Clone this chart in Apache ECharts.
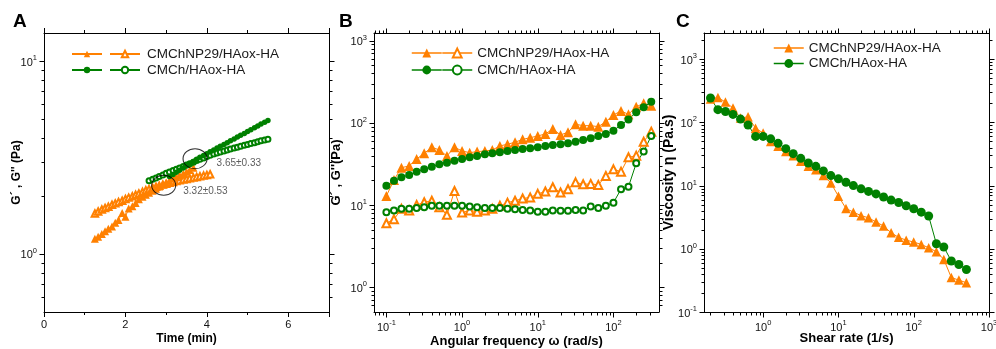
<!DOCTYPE html>
<html><head><meta charset="utf-8">
<script src="https://cdn.jsdelivr.net/npm/echarts@6/dist/echarts.min.js"></script>
<style>html,body{margin:0;padding:0;background:#fff}#c{width:996px;height:349px}</style>
</head><body><div id="c"></div>
<script>
// ---------------- Panel A : time sweep ----------------
const timeNP_G1 = [1.25,1.33,1.42,1.50,1.58,1.67,1.75,1.83,1.92,2.00,2.08,2.17,2.25,2.33,2.42,2.50,2.58,2.67,2.75,2.83,2.92,3.00,3.08,3.17,3.25,3.33,3.42,3.50,3.58,3.67];
const gpNP_A    = [1.20,1.23,1.27,1.31,1.35,1.39,1.45,1.50,1.63,1.56,1.72,1.77,1.84,1.92,1.98,2.03,2.08,2.13,2.18,2.24,2.29,2.34,2.40,2.46,2.51,2.56,2.61,2.67,2.73,2.80];
const timeNP_G2 = [1.25,1.33,1.42,1.50,1.58,1.67,1.75,1.83,1.92,2.00,2.08,2.17,2.25,2.33,2.42,2.50,2.58,2.67,2.75,2.83,2.92,3.00,3.08,3.17,3.25,3.33,3.42,3.50,3.58,3.67,3.75,3.83,3.92,4.00,4.08];
const gppNP_A   = [1.62,1.66,1.70,1.73,1.76,1.80,1.83,1.86,1.89,1.93,1.96,1.99,2.03,2.06,2.10,2.14,2.17,2.20,2.23,2.26,2.29,2.31,2.34,2.36,2.39,2.41,2.43,2.45,2.47,2.49,2.51,2.53,2.55,2.57,2.59];
const timeCH_G1 = [3.08,3.17,3.25,3.33,3.42,3.50,3.58,3.67,3.75,3.83,3.92,4.00,4.08,4.17,4.25,4.33,4.42,4.50,4.58,4.67,4.75,4.83,4.92,5.00,5.08,5.17,5.25,5.33,5.42,5.50];
const gpCH_A    = [2.52,2.58,2.65,2.72,2.79,2.87,2.94,3.02,3.10,3.17,3.24,3.31,3.39,3.46,3.54,3.62,3.70,3.78,3.87,3.95,4.04,4.13,4.22,4.32,4.41,4.51,4.61,4.72,4.82,4.93];
const timeCH_G2 = [2.58,2.67,2.75,2.83,2.92,3.00,3.08,3.17,3.25,3.33,3.42,3.50,3.58,3.67,3.75,3.83,3.92,4.00,4.08,4.17,4.25,4.33,4.42,4.50,4.58,4.67,4.75,4.83,4.92,5.00,5.08,5.17,5.25,5.33,5.42,5.50];
const gppCH_A   = [2.40,2.44,2.48,2.52,2.57,2.62,2.66,2.71,2.75,2.79,2.84,2.89,2.94,2.99,3.05,3.10,3.15,3.20,3.25,3.30,3.34,3.38,3.42,3.46,3.50,3.54,3.58,3.62,3.66,3.70,3.74,3.78,3.82,3.86,3.90,3.94];
const crossPoints = [[2.94, 2.27], [3.71, 3.12]];
const crossLabels = ['3.32±0.53', '3.65±0.33'];

// ---------------- Panel B : frequency sweep ----------------
const freqB  = [0.1,0.126,0.158,0.2,0.251,0.316,0.398,0.501,0.631,0.794,1,1.26,1.58,2,2.51,3.16,3.98,5.01,6.31,7.94,10,12.6,15.8,20,25.1,31.6,39.8,50.1,63.1,79.4,100,126,158,200,251,316];
const gpNP_B  = [12.9,20.2,28.5,29.9,36.4,42.6,50.5,46.8,39.6,50.5,45.5,43.4,44.7,45.5,46.8,52.4,55,58.1,63,66,69.3,73.3,84.3,71.3,76.9,96.2,92.5,92.5,89.9,103.5,124.8,139.6,127,157,173,162];
const gppNP_B = [6.0,6.7,9.0,8.6,10.0,10.8,11.3,9.4,7.6,14.8,8.1,8.6,8.3,8.6,9.0,9.8,10.7,11.3,12.0,12.4,13.7,14.6,16.5,14.2,15.6,18.9,17.9,18.1,17.6,22.6,27.2,25.5,38.1,39.9,59,78.2];
const gpCH_B  = [17.2,19.8,21.8,23.2,25.5,27.2,29.3,31.4,32.8,34.7,36.4,38.1,39.6,41.5,42.7,43.9,45.5,46.8,48.2,49.1,50.5,52.4,53.8,55,56.5,59.1,61.9,65,69.3,73.3,80.4,94.3,110,135,155,181];
const gppCH_B = [8.2,8.6,9.0,9.0,9.2,9.4,9.8,9.8,9.8,9.8,9.8,9.6,9.4,9.2,9.2,9.2,9.0,8.9,8.7,8.6,8.3,8.3,8.6,8.5,8.5,8.7,8.6,9.6,9.2,9.8,10.7,15.6,16.7,32.2,44.7,69.3];

// ---------------- Panel C : viscosity ----------------
const shearC   = [0.2,0.251,0.316,0.398,0.501,0.631,0.794,1,1.26,1.58,2,2.51,3.16,3.98,5.01,6.31,7.94,10,12.6,15.8,20,25.1,31.6,39.8,50.1,63.1,79.4,100,126,158,200,251,316,398,501];
const etaNP_C  = [235,248,210,169,117,123,81,68,50,41.8,34.8,29.8,24.2,20.2,17.9,14.5,11.0,6.8,4.35,3.8,3.35,3.1,2.65,2.3,1.79,1.52,1.37,1.28,1.17,1.04,0.9,0.68,0.35,0.32,0.29];
const etaCH_C  = [243,159,149,134,113,91,60,60,55,46.6,38.4,32,27,22.8,20.2,17.1,14.4,12.8,11.3,10,8.9,8.1,7.4,6.6,5.9,5.4,4.8,4.3,3.8,3.3,1.2,1.07,0.64,0.565,0.47];

// ---------------- labels ----------------
const nameNP = 'CMChNP29/HAox-HA';
const nameCH = 'CMCh/HAox-HA';
const panelLetters = ['A', 'B', 'C'];
const xTitles = ['Time (min)', 'Angular frequency ω (rad/s)', 'Shear rate (1/s)'];
const yTitles = ["G´ , G'' (Pa)", "G´ , G''(Pa)", 'Viscosity η (Pa.s)'];
const linearXTicksA = [0, 2, 4, 6];
const minorMult = [2, 3, 4, 5, 6, 7, 8, 9];

const ORANGE = '#ff8000', GREEN = '#008000';
const FONT = '"Liberation Sans", Arial, Helvetica, sans-serif';

function zip(xs, ys) { return xs.map((x, i) => [x, ys[i]]); }
function isDecade(v) { const l = Math.log10(v); return Math.abs(l - Math.round(l)) < 1e-6; }
function logLabel(v) {
  if (!isDecade(v)) return '';
  return '{b|10}{s|' + Math.round(Math.log10(v)) + '}';
}
const richLog = {
  b: {fontSize: 11, fontFamily: FONT, color: '#111', lineHeight: 14, verticalAlign: 'bottom'},
  s: {fontSize: 7.5, fontFamily: FONT, color: '#111', lineHeight: 8, verticalAlign: 'top'}
};

function decadesBetween(lo, hi) {
  const out = [];
  for (let e = Math.floor(Math.log10(lo)); e <= Math.ceil(Math.log10(hi)); e++) out.push(Math.pow(10, e));
  return out;
}
// positions of major (decade) and minor (2..9 x decade) ticks on log axes
function tickData(lo, hi, other, isX) {
  const data = [];
  decadesBetween(lo, hi).forEach(d => {
    if (d >= lo * 0.9999 && d <= hi * 1.0001) data.push(isX ? [d, other, 2] : [other, d, 0]);
    minorMult.forEach(m => {
      const v = d * m;
      if (v > lo * 1.001 && v < hi * 0.999) data.push(isX ? [v, other, 3] : [other, v, 1]);
    });
  });
  return data;
}
function tickRender(params, api) {
  const kind = api.value(2);
  const p = api.coord([api.value(0), api.value(1)]);
  const cs = params.coordSys;
  const len = (kind === 0 || kind === 2) ? 5 : 3;
  const st = {stroke: '#000', lineWidth: 1};
  if (kind < 2) {
    const y = Math.round(p[1]) + 0.5;
    const x0 = Math.round(cs.x) + 0.5, x1 = Math.round(cs.x + cs.width) + 0.5;
    return {type: 'group', children: [
      {type: 'line', shape: {x1: x0 - len, y1: y, x2: x0, y2: y}, style: st},
      {type: 'line', shape: {x1: x1, y1: y, x2: x1 + len, y2: y}, style: st}
    ]};
  }
  const x = Math.round(p[0]) + 0.5;
  const y0 = Math.round(cs.y) + 0.5, y1 = Math.round(cs.y + cs.height) + 0.5;
  return {type: 'group', children: [
    {type: 'line', shape: {x1: x, y1: y1, x2: x, y2: y1 + len}, style: st},
    {type: 'line', shape: {x1: x, y1: y0 - len, x2: x, y2: y0}, style: st}
  ]};
}

const ext = {
  A: {x: [0, 7], y: [0.5, 14]},
  B: {x: [0.0686, 400], y: [0.5, 1240]},
  C: {x: [0.164, 1000], y: [0.1, 2600]}
};

const axisLine = {show: true, onZero: false, lineStyle: {color: '#000', width: 1}};
const titleStyleA = {fontFamily: FONT, fontWeight: 'bold', fontSize: 12, color: '#000'};
const titleStyle = {fontFamily: FONT, fontWeight: 'bold', fontSize: 13, color: '#000'};

const grids = [
  {left: 44, top: 33, width: 285, height: 279},
  {left: 374, top: 33, width: 285, height: 279},
  {left: 704, top: 33, width: 285, height: 279}
];

function logAxis(gi, e, pos, showLab, name, nameGap, ts) {
  return {
    gridIndex: gi, type: 'log', logBase: 10, min: e[0], max: e[1], position: pos,
    axisLine: axisLine, axisTick: {show: false}, splitLine: {show: false},
    axisLabel: {show: showLab, formatter: logLabel, rich: richLog, margin: 7},
    name: name || '', nameLocation: 'middle', nameGap: nameGap || 0, nameTextStyle: ts || titleStyle,
    nameMoveOverlap: false
  };
}

const xAxes = [
  {gridIndex: 0, type: 'value', min: ext.A.x[0], max: ext.A.x[1], interval: 2, position: 'bottom',
   axisLine: axisLine, axisTick: {show: true, inside: false, length: 5, lineStyle: {color: '#000'}},
   minorTick: {show: true, splitNumber: 2, length: 3, lineStyle: {color: '#000'}},
   splitLine: {show: false},
   axisLabel: {fontFamily: FONT, fontSize: 11, color: '#111', margin: 7,
     formatter: v => linearXTicksA.indexOf(v) >= 0 ? String(v) : ''},
   name: xTitles[0], nameLocation: 'middle', nameGap: 21, nameTextStyle: titleStyleA, nameMoveOverlap: false},
  {gridIndex: 0, type: 'value', min: ext.A.x[0], max: ext.A.x[1], interval: 2, position: 'top',
   axisLine: axisLine, axisTick: {show: true, inside: false, length: 5, lineStyle: {color: '#000'}},
   minorTick: {show: true, splitNumber: 2, length: 3, lineStyle: {color: '#000'}},
   splitLine: {show: false}, axisLabel: {show: false}},
  logAxis(1, ext.B.x, 'bottom', true, xTitles[1], 23),
  logAxis(1, ext.B.x, 'top', false),
  logAxis(2, ext.C.x, 'bottom', true, xTitles[2], 20),
  logAxis(2, ext.C.x, 'top', false)
];
const yAxes = [
  logAxis(0, ext.A.y, 'left', true, yTitles[0], 21, titleStyleA),
  logAxis(0, ext.A.y, 'right', false),
  logAxis(1, ext.B.y, 'left', true, yTitles[1], 31),
  logAxis(1, ext.B.y, 'right', false),
  logAxis(2, ext.C.y, 'left', true, yTitles[2], 28, Object.assign({}, titleStyle, {fontSize: 14})),
  logAxis(2, ext.C.y, 'right', false)
];

function lineSeries(name, gi, data, color, symbol, size, extra) {
  return Object.assign({
    name: name, type: 'line', xAxisIndex: gi * 2, yAxisIndex: gi * 2, data: data,
    symbol: symbol, symbolSize: size, showSymbol: true,
    lineStyle: {color: color, width: 1}, itemStyle: {color: color, borderWidth: 1.2},
    emphasis: {disabled: true}, animation: false, z: 3
  }, extra || {});
}

const labelMap = {
  A_np1: '', A_np2: nameNP, A_ch1: '', A_ch2: nameCH,
  B_np1: '', B_np2: nameNP, B_ch1: '', B_ch2: nameCH,
  C_np: nameNP, C_ch: nameCH
};

const series = [
  lineSeries('A_np2', 0, zip(timeNP_G2, gppNP_A), ORANGE, 'emptyTriangle', 6.5),
  lineSeries('A_np1', 0, zip(timeNP_G1, gpNP_A), ORANGE, 'triangle', 8),
  lineSeries('A_ch2', 0, zip(timeCH_G2, gppCH_A), GREEN, 'emptyCircle', 5),
  lineSeries('A_ch1', 0, zip(timeCH_G1, gpCH_A), GREEN, 'circle', 5.5),
  {type: 'scatter', xAxisIndex: 0, yAxisIndex: 0, symbol: 'circle', symbolSize: [24, 20], z: 5,
   itemStyle: {color: 'rgba(0,0,0,0)', borderColor: '#000', borderWidth: 1}, silent: true, animation: false,
   data: crossPoints.map((p, i) => ({value: p, name: crossLabels[i],
     label: {show: true, position: 'right', distance: i === 0 ? 7 : 9, offset: [0, i === 0 ? 6 : 5],
       formatter: '{b}', fontFamily: FONT, fontSize: 10, color: '#333'}}))},

  lineSeries('B_np1', 1, zip(freqB, gpNP_B), ORANGE, 'triangle', 10),
  lineSeries('B_np2', 1, zip(freqB, gppNP_B), ORANGE, 'emptyTriangle', 8),
  lineSeries('B_ch1', 1, zip(freqB, gpCH_B), GREEN, 'circle', 8),
  lineSeries('B_ch2', 1, zip(freqB, gppCH_B), GREEN, 'emptyCircle', 6),

  lineSeries('C_np', 2, zip(shearC, etaNP_C), ORANGE, 'triangle', 9.5),
  lineSeries('C_ch', 2, zip(shearC, etaCH_C), GREEN, 'circle', 9)
];

// log-axis tick marks on all four frame sides, placed through the axes' own scales
const tickSets = [
  {gi: 0, data: tickData(ext.A.y[0], ext.A.y[1], ext.A.x[0], false)},
  {gi: 1, data: tickData(ext.B.y[0], ext.B.y[1], ext.B.x[0], false).concat(tickData(ext.B.x[0], ext.B.x[1], ext.B.y[0], true))},
  {gi: 2, data: tickData(ext.C.y[0], ext.C.y[1], ext.C.x[0], false).concat(tickData(ext.C.x[0], ext.C.x[1], ext.C.y[0], true))}
];
tickSets.forEach(t => series.push({
  type: 'custom', xAxisIndex: t.gi * 2, yAxisIndex: t.gi * 2, data: t.data,
  encode: {x: 0, y: 1}, renderItem: tickRender, clip: false, silent: true, animation: false, z: 10
}));

const legendText = {fontFamily: FONT, fontSize: 13.5, color: '#1a1a1a'};
function legend(left, top, names, opts) {
  return Object.assign({
    left: left, top: top, orient: 'horizontal', itemWidth: 30, itemHeight: 9, itemGap: 3,
    data: names, textStyle: legendText, formatter: n => labelMap[n], selectedMode: false,
    padding: 0
  }, opts || {});
}

const option = {
  animation: false,
  grid: grids.map(g => Object.assign({containLabel: false, outerBoundsMode: 'none'}, g)),
  xAxis: xAxes,
  yAxis: yAxes,
  legend: [
    legend(71, 47, ['A_np1', 'A_np2'], {itemHeight: 8, itemGap: 6, lineStyle: {width: 2},
      textStyle: Object.assign({padding: [0, 0, 0, 2]}, legendText)}),
    legend(71, 63, ['A_ch1', 'A_ch2'], {itemHeight: 8, itemGap: 6, lineStyle: {width: 2},
      textStyle: Object.assign({padding: [0, 0, 0, 2]}, legendText)}),
    legend(411, 46, ['B_np1', 'B_np2'], {itemHeight: 11, itemGap: -1, lineStyle: {width: 1.5}}),
    legend(411, 63, ['B_ch1', 'B_ch2'], {itemHeight: 11, itemGap: -1, lineStyle: {width: 1.5}}),
    legend(773, 41, ['C_np', 'C_ch'], {orient: 'vertical', itemHeight: 11, itemGap: 1.5, lineStyle: {width: 1.5}})
  ],
  graphic: panelLetters.map((l, i) => ({
    type: 'text', left: [13, 339, 676][i], top: 12,
    style: {text: l, font: 'bold 19px ' + FONT, fill: '#000'}
  })),
  series: series
};

const chart = echarts.init(document.getElementById('c'), null, {renderer: 'canvas'});
chart.setOption(option);
</script>
</body></html>
